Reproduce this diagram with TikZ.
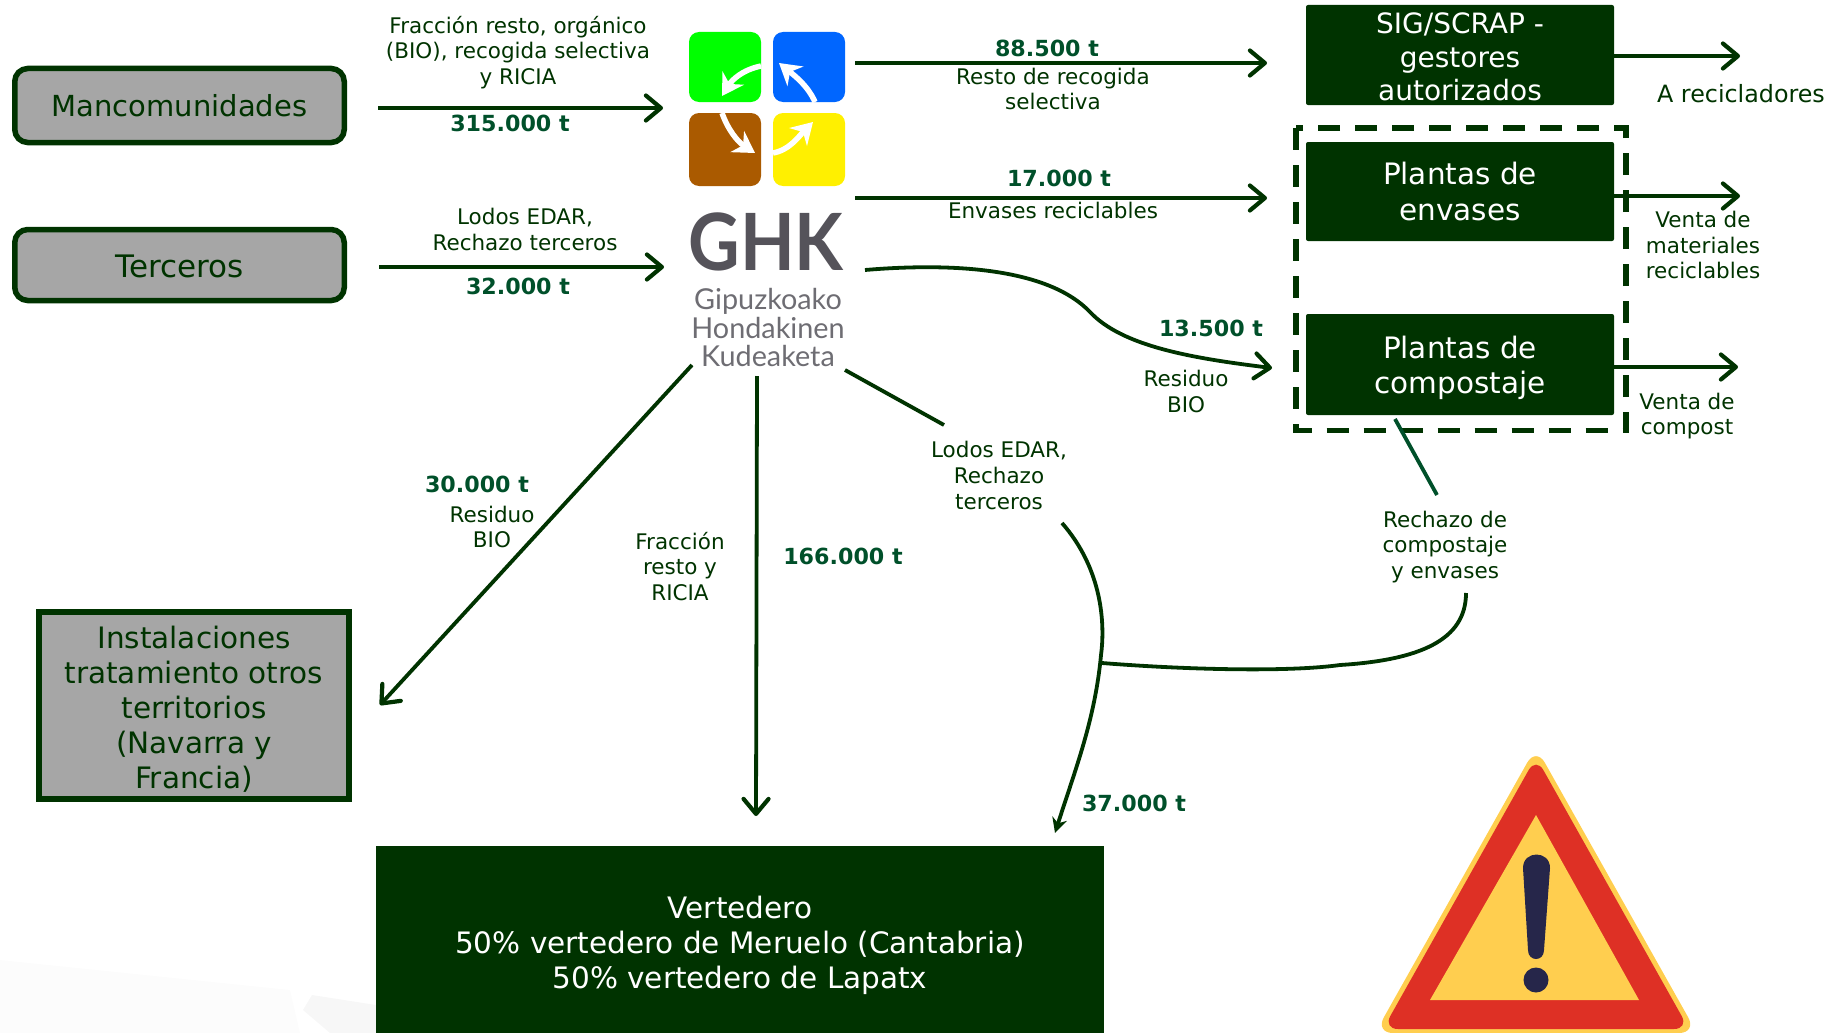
\documentclass[tikz,border=0pt]{standalone}
\usepackage{fontspec}
\setmainfont{DejaVu Sans}
\newfontfamily\logofont{Lato}
\usetikzlibrary{arrows.meta}
\definecolor{dkgreen}{HTML}{003300}
\definecolor{numgreen}{HTML}{00502A}
\definecolor{boxgray}{HTML}{A6A6A6}
\definecolor{logogray}{HTML}{55535A}
\definecolor{signred}{HTML}{DE3025}
\definecolor{signyel}{HTML}{FFCE4F}
\definecolor{signink}{HTML}{26264A}
\newcommand{\droptext}[1]{\rule{0pt}{#1}}
\tikzset{
  x=1pt,y=-1pt,
  lab/.style={inner sep=0pt,align=center,text=dkgreen,font=\fontsize{21.5}{25.6}\selectfont},
  num/.style={inner sep=0pt,text=numgreen,font=\fontsize{22.2}{25.6}\selectfont\bfseries},
  srcbox/.style={draw=dkgreen,line width=5.5pt,fill=boxgray,rounded corners=13pt,text=dkgreen,inner sep=0pt,font=\fontsize{29}{34}\selectfont},
  othbox/.style={draw=dkgreen,line width=5.5pt,fill=boxgray,text=dkgreen,inner sep=0pt,align=center,font=\fontsize{29.5}{35}\selectfont},
  darkbox/.style={fill=dkgreen,rounded corners=2pt,text=white,inner sep=0pt,align=center,font=\fontsize{29.5}{35.3}\selectfont},
  flow/.style={draw=dkgreen,line width=3.8pt,-{Straight Barb[length=15pt,width=25pt,line width=4.2pt,round]}},
  plain/.style={draw=dkgreen,line width=3.8pt},
  tile/.style={rounded corners=10pt},
  logoarrow/.style={draw=white,line width=5.5pt,-{Stealth[length=21pt,width=25pt]}},
}
\begin{document}
\begin{tikzpicture}
\useasboundingbox (0,0) rectangle (1836,1033);
% faint background marks
\fill[black!1.2] (0,960) -- (290,990) -- (300,1033) -- (0,1033) -- cycle;
\fill[black!3] (312,995) -- (376,1005) -- (376,1033) -- (330,1033) -- (303,1010) -- cycle;

% boxes
\node[srcbox,minimum width=329.5pt,minimum height=74pt] (manco) at (179.5,105.5) {Mancomunidades};
\node[srcbox,minimum width=329.5pt,minimum height=71pt,font=\fontsize{31}{34}\selectfont] (terc) at (179.5,265) {\droptext{24.6pt}Terceros};
\node[othbox,minimum width=310pt,minimum height=187pt] (inst) at (194,705.5) {\droptext{29.4pt}Instalaciones\\tratamiento otros\\territorios\\(Navarra y\\Francia)};
\node[darkbox,minimum width=728pt,minimum height=187pt,rounded corners=0pt] (vert) at (740,939.5) {\droptext{34.4pt}Vertedero\\50\% vertedero de Meruelo (Cantabria)\\50\% vertedero de Lapatx};
\node[darkbox,minimum width=308pt,minimum height=100pt,font=\fontsize{28}{33.5}\selectfont] (sig) at (1460,55) {\droptext{25.3pt}SIG/SCRAP -\\gestores\\autorizados};
\node[darkbox,minimum width=308pt,minimum height=99pt] (env) at (1460,191.5) {Plantas de\\envases};
\node[darkbox,minimum width=308pt,minimum height=101pt] (comp) at (1460,364.5) {\droptext{29.3pt}Plantas de\\compostaje};
\draw[dkgreen,line width=5.2pt,dash pattern=on 22pt off 15pt] (1296,128) rectangle (1626,430.5);

% GHK logo
\fill[tile,fill=green] (689,32) rectangle (761,102);
\fill[tile,fill={rgb,255:red,0;green,102;blue,255}] (773,32) rectangle (845,102);
\fill[tile,fill={rgb,255:red,170;green,90;blue,0}] (689,113) rectangle (761,186);
\fill[tile,fill={rgb,255:red,255;green,240;blue,0}] (773,113) rectangle (845,186);
\draw[logoarrow] (761,66) .. controls (742,70) and (732,80) .. (722,96);
\draw[logoarrow] (815,102) .. controls (808,86) and (795,76) .. (779,63);
\draw[logoarrow] (722,113) .. controls (728,130) and (738,142) .. (755,153);
\draw[logoarrow] (773,153) .. controls (790,150) and (800,135) .. (813,122);
\node[inner sep=0pt,xscale=.9,text=logogray,font=\logofont\bfseries\fontsize{79}{79}\selectfont] (ghk) at (766,241.5) {GHK};
\node[inner sep=0pt,align=center,text=logogray!85,font=\logofont\fontsize{28.8}{28.5}\selectfont] (ghksub) at (768,328) {Gipuzkoako\\Hondakinen\\Kudeaketa};

% warning sign
\fill[signyel,rounded corners=18pt] (1536,747) -- (1697,1033) -- (1375,1033) -- cycle;
\fill[signred,rounded corners=15pt] (1536,757) -- (1689,1029) -- (1383,1029) -- cycle;
\fill[signyel] (1536,815) -- (1639,1000) -- (1430,1000) -- cycle;
\fill[signink] (1523,868) .. controls (1523,850) and (1550,850) .. (1550,868) -- (1544,950) .. controls (1544,962) and (1528,962) .. (1528,950) -- cycle;
\fill[signink] (1536,980) circle[radius=12.5];

% free ends of connectors
\coordinate (a1) at (378,108); \coordinate (a1e) at (663,108);
\coordinate (a2) at (379,267); \coordinate (a2e) at (664,267);
\coordinate (a3) at (855,63);  \coordinate (a3e) at (1267,63);
\coordinate (a4) at (855,198); \coordinate (a4e) at (1267,198);
\coordinate (a5) at (865,270); \coordinate (a5e) at (1272,368);
\coordinate (a6e) at (1740,56);
\coordinate (a7e) at (1740,196);
\coordinate (a8e) at (1738,367);
\coordinate (a9) at (692,365); \coordinate (a9e) at (380,705);
\coordinate (a10) at (757,376); \coordinate (a10e) at (756,816);
\coordinate (a11) at (845,370); \coordinate (a11e) at (944,425);
\coordinate (a12) at (1062,523); \coordinate (a12e) at (1055,833);
\coordinate (a13) at (1102,663); \coordinate (a13e) at (1466,593);
\coordinate (a14) at (1395,419); \coordinate (a14e) at (1437,495);

\draw[flow] (a1) -- (a1e);
\draw[flow] (a2) -- (a2e);
\draw[flow] (a3) -- (a3e);
\draw[flow] (a4) -- (a4e);
\draw[flow] (a5) .. controls (960,262) and (1050,270) .. (1090,312) .. controls (1122,346) and (1190,358) .. (a5e);
\draw[flow] (sig.east |- a6e) -- (a6e);
\draw[flow] (env.east |- a7e) -- (a7e);
\draw[flow] (comp.east |- a8e) -- (a8e);
\draw[flow] (a9) -- (a9e);
\draw[flow] (a10) -- (a10e);
\draw[plain] (a11) -- (a11e);
\draw[draw=dkgreen,line width=3.8pt,-{Stealth[length=15pt,width=15pt]}] (a12) .. controls (1103,570) and (1105,625) .. (1101,655) .. controls (1095,720) and (1075,770) .. (a12e);
\draw[plain] (a13) .. controls (1190,670) and (1290,672) .. (1340,665) .. controls (1420,660) and (1466,640) .. (a13e);
\draw[plain,draw=numgreen] (a14) -- (a14e);

% labels
\node[lab] (t1) at (518,52.5) {Fracción resto, orgánico\\(BIO), recogida selectiva\\y RICIA};
\node[num] (n1) at (510,123) {315.000 t};
\node[lab] (t2) at (525,229.5) {Lodos EDAR,\\Rechazo terceros};
\node[num] (n2) at (518,286) {32.000 t};
\node[num] (n3) at (1047,48) {88.500 t};
\node[lab] (t3) at (1053,89) {Resto de recogida\\selectiva};
\node[num] (n4) at (1059,178) {17.000 t};
\node[lab] (t4) at (1053,210.5) {Envases reciclables};
\node[num] (n5) at (1211,328) {13.500 t};
\node[lab] (t5) at (1186,391.5) {Residuo\\BIO};
\node[num] (n6) at (477,484) {30.000 t};
\node[lab] (t6) at (492,527) {Residuo\\BIO};
\node[lab] (t7) at (680,566.5) {Fracción\\resto y\\RICIA};
\node[num] (n7) at (843,556) {166.000 t};
\node[lab] (t8) at (999,475.5) {Lodos EDAR,\\Rechazo\\terceros};
\node[num] (n8) at (1134,803) {37.000 t};
\node[lab] (t9) at (1445,547) {Rechazo de\\compostaje\\y envases};
\node[lab,font=\fontsize{23.8}{26}\selectfont] (t10) at (1741,94) {A recicladores};
\node[lab] (t11) at (1703,245) {Venta de\\materiales\\reciclables};
\node[lab] (t12) at (1687,416) {Venta de\\compost};
\end{tikzpicture}
\end{document}
